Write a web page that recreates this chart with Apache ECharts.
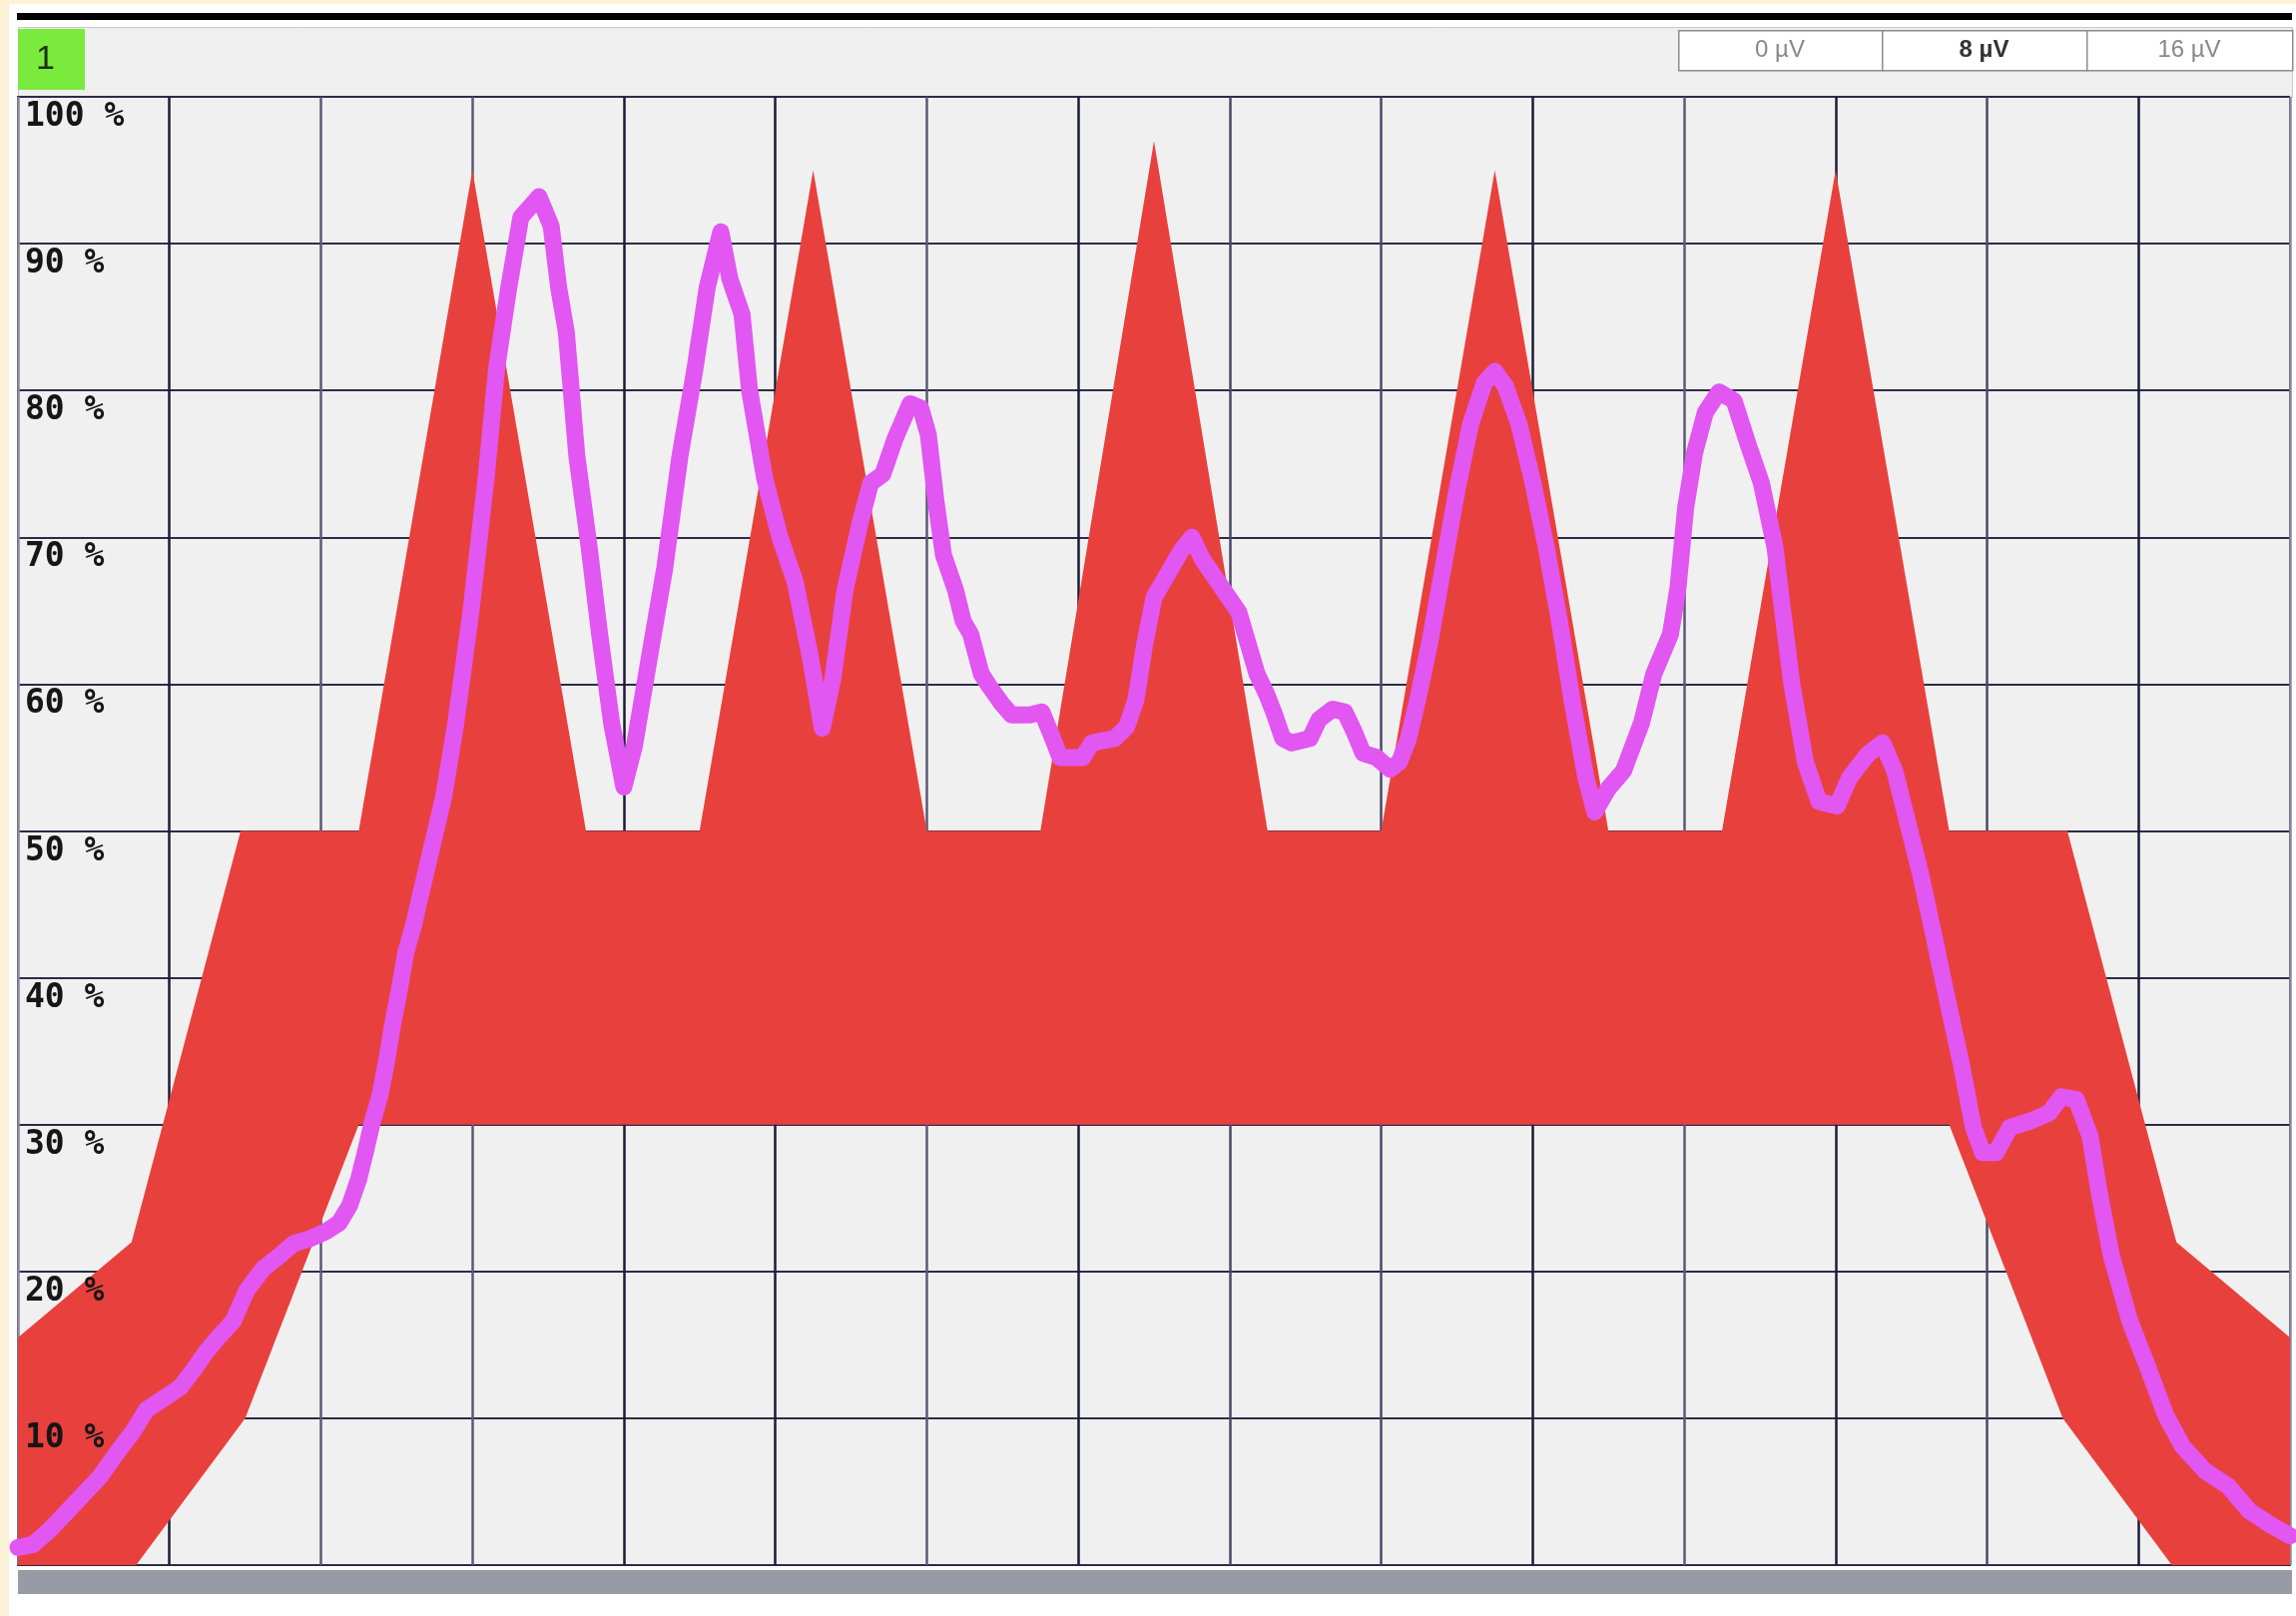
<!DOCTYPE html>
<html>
<head>
<meta charset="utf-8">
<title>Channel 1 trace</title>
<script src="https://cdn.jsdelivr.net/npm/echarts@6/dist/echarts.min.js"></script>
<style>
  html, body { margin: 0; padding: 0; background: #ffffff; }
  #chart { width: 2300px; height: 1619px; }
</style>
</head>
<body>
<div id="chart"></div>
<script>
// Horizontal position is measured in grid divisions (0..15), vertical in percent.
const xDivisions = 15;

// Tolerance band: upper edge (left to right) and lower edge (left to right).
const bandUpper = [
  [0, 15.5], [0.75, 22], [1.47, 50], [2.25, 50], [3.0, 95], [3.75, 50],
  [4.5, 50], [5.25, 95], [6.0, 50], [6.75, 50], [7.5, 97], [8.25, 50],
  [9.0, 50], [9.75, 95], [10.5, 50], [11.25, 50], [12.0, 95], [12.75, 50],
  [13.53, 50], [14.25, 22], [15, 15.5]
];
const bandLower = [
  [0, 0], [0.78, 0], [1.5, 10], [2.25, 30], [12.75, 30], [13.5, 10], [14.22, 0], [15, 0]
];

// Measured trace.
const traceLine = [
  [0, 1.2], [0.1, 1.4], [0.21, 2.4], [0.32, 3.6], [0.43, 4.8], [0.54, 6.0], [0.65, 7.6],
  [0.76, 9.1], [0.85, 10.6], [0.94, 11.2], [1.07, 12.1], [1.16, 13.3], [1.24, 14.5],
  [1.33, 15.6], [1.42, 16.6], [1.51, 18.7], [1.62, 20.2], [1.73, 21.1], [1.82, 21.9],
  [1.92, 22.2], [2.03, 22.7], [2.12, 23.3], [2.19, 24.5], [2.25, 26.3], [2.30, 28.4],
  [2.34, 30.2], [2.39, 32.0], [2.43, 34.1], [2.47, 36.6], [2.52, 39.3], [2.56, 41.7],
  [2.61, 43.5], [2.65, 45.3], [2.81, 52.3], [2.89, 57.3], [2.99, 64.9], [3.09, 74],
  [3.16, 81.5], [3.24, 87], [3.32, 91.8], [3.44, 93.2], [3.52, 91.2], [3.57, 87],
  [3.62, 84], [3.69, 75.5], [3.77, 69.4], [3.84, 63.4], [3.92, 57.3], [4.0, 53.0],
  [4.07, 55.8], [4.17, 61.9], [4.27, 67.9], [4.37, 75.5], [4.47, 81.5], [4.55, 87],
  [4.64, 90.8], [4.70, 87.6], [4.78, 85.2], [4.83, 80], [4.93, 74], [5.03, 70],
  [5.13, 67], [5.23, 61.9], [5.31, 57.0], [5.38, 60.4], [5.46, 66.4], [5.56, 71],
  [5.63, 73.7], [5.71, 74.3], [5.79, 76.7], [5.89, 79.1], [5.96, 78.8], [6.01, 77],
  [6.06, 72.5], [6.11, 68.8], [6.19, 66.4], [6.24, 64.3], [6.29, 63.4], [6.36, 60.7],
  [6.41, 59.9], [6.5, 58.6], [6.56, 57.9], [6.68, 57.9], [6.76, 58.1], [6.82, 56.6],
  [6.88, 55], [7.03, 55], [7.09, 56], [7.24, 56.3], [7.32, 57.1], [7.38, 58.9],
  [7.44, 62.8], [7.5, 65.9], [7.59, 67.5], [7.68, 69.1], [7.75, 70], [7.82, 68.5],
  [7.94, 66.7], [8.06, 64.9], [8.12, 62.8], [8.18, 60.7], [8.24, 59.4], [8.29, 58.1],
  [8.35, 56.3], [8.41, 56], [8.53, 56.3], [8.59, 57.6], [8.68, 58.3], [8.76, 58.1],
  [8.82, 56.8], [8.88, 55.3], [8.97, 55], [9.06, 54.2], [9.12, 54.7], [9.18, 56.3],
  [9.24, 58.9], [9.32, 62.8], [9.41, 68], [9.5, 73.2], [9.59, 77.7], [9.68, 80.5],
  [9.75, 81.3], [9.82, 80.3], [9.91, 77.7], [10.0, 73.8], [10.09, 69.3], [10.18, 64.1],
  [10.26, 58.9], [10.35, 53.7], [10.41, 51.3], [10.5, 52.9], [10.6, 54.1], [10.72, 57.4],
  [10.8, 60.7], [10.91, 63.4], [10.96, 66.6], [11.01, 72], [11.07, 75.8], [11.14, 78.5],
  [11.23, 79.9], [11.33, 79.3], [11.42, 76.4], [11.51, 73.7], [11.6, 69.3], [11.65, 65],
  [11.71, 60.1], [11.8, 54.7], [11.89, 52], [12.01, 51.7], [12.09, 53.6], [12.21, 55.2],
  [12.31, 56], [12.39, 54.1], [12.48, 50.4], [12.56, 47.1], [12.65, 42.8], [12.74, 38.4],
  [12.83, 34.1], [12.91, 29.8], [12.97, 28.1], [13.06, 28.1], [13.15, 29.8], [13.3, 30.3],
  [13.41, 30.8], [13.49, 31.9], [13.59, 31.7], [13.68, 29.2], [13.74, 25.4], [13.82, 21.1],
  [13.94, 16.7], [14.06, 13.5], [14.18, 10.2], [14.29, 8.1], [14.44, 6.4], [14.59, 5.4],
  [14.73, 3.7], [14.88, 2.7], [15, 2.0]
];

// Vertical scale selector cells; the active one is drawn in bold.
const scaleLabels = ['0 µV', '8 µV', '16 µV'];
const activeScale = 1;
const channelLabel = '1';

// Darker vertical division lines alternate irregularly with lighter ones.
const vLineColors = ['#8a8a9c', '#1c1c3a', '#5a5a74', '#5a5a74', '#1c1c3a', '#1c1c3a',
  '#5a5a74', '#1c1c3a', '#4a4a66', '#4a4a66', '#1c1c3a', '#5a5a74', '#1c1c3a',
  '#4a4a66', '#1c1c3a', '#8a8a9c'];

const chart = echarts.init(document.getElementById('chart'), null, { renderer: 'canvas' });

// Header decorations
const cellX = [1681, 1885, 2090];
const cellW = [204, 205, 206];
const headerGraphics = [
  { type: 'rect', left: 0, top: 0, shape: { width: 9, height: 1619 }, style: { fill: '#fcf2d6' } },
  { type: 'rect', left: 0, top: 0, shape: { width: 2300, height: 4 }, style: { fill: '#fcf2d6' } },
  { type: 'rect', left: 17, top: 13, shape: { width: 2279, height: 7 }, style: { fill: '#000000' } },
  { type: 'rect', left: 18, top: 27, shape: { width: 2278, height: 70 }, style: { fill: '#efefef', stroke: '#c9c9c9', lineWidth: 1 } },
  { type: 'rect', left: 18, top: 29, shape: { width: 67, height: 61 }, style: { fill: '#7aea3c' } },
  { type: 'text', left: 36, top: 43, style: { text: channelLabel, fill: '#1b3010', font: '34px "Liberation Sans", sans-serif' } },
  { type: 'rect', left: 18, top: 1573, shape: { width: 2278, height: 24 }, style: { fill: '#979ba5' } }
];
scaleLabels.forEach(function (lbl, i) {
  headerGraphics.push({
    type: 'rect', left: cellX[i], top: 30,
    shape: { width: cellW[i], height: 40 },
    style: { fill: '#ffffff', stroke: '#8c8c8c', lineWidth: 1.5 }
  });
  headerGraphics.push({
    type: 'text', x: cellX[i] + cellW[i] / 2, y: 50,
    style: {
      text: lbl, align: 'center', verticalAlign: 'middle',
      fill: i === activeScale ? '#333333' : '#888888',
      font: (i === activeScale ? 'bold ' : '') + '24px "Liberation Sans Narrow", "Liberation Sans", sans-serif'
    }
  });
});

const option = {
  animation: false,
  backgroundColor: '#ffffff',
  graphic: headerGraphics,
  grid: {
    left: 18, right: 6, top: 97, bottom: 51,
    outerBoundsMode: 'none', containLabel: false,
    show: true, backgroundColor: '#f0f0f0', borderColor: '#3a3a52', borderWidth: 2
  },
  xAxis: {
    type: 'value', min: 0, max: xDivisions, interval: 1,
    axisLine: { show: false }, axisTick: { show: false }, axisLabel: { show: false },
    splitLine: { show: true, lineStyle: { color: vLineColors, width: 2.5 } }
  },
  yAxis: [
    {
      type: 'value', min: 0, max: 100, interval: 10, position: 'left',
      axisLine: { show: false }, axisTick: { show: false }, axisLabel: { show: false },
      splitLine: { show: true, lineStyle: { color: '#2c2c48', width: 2 } }
    },
    {
      type: 'value', min: 0, max: 100, interval: 10, z: 10, position: 'left', offset: 0,
      axisLine: { show: false }, axisTick: { show: false }, splitLine: { show: false },
      axisLabel: {
        show: true, inside: true, margin: 7, align: 'left', verticalAlign: 'top',
        padding: [4, 0, 0, 0], showMinLabel: false,
        color: '#161616', fontWeight: 'bold', fontSize: 33,
        fontFamily: '"DejaVu Sans Mono", monospace',
        formatter: function (v) { return v + ' %'; }
      }
    }
  ],
  series: [
    {
      type: 'custom',
      name: 'band',
      z: 2,
      clip: true,
      data: bandUpper,
      encode: { x: 0, y: 1 },
      renderItem: function (params, api) {
        if (params.dataIndex !== 0) return null;
        const pts = bandUpper.map(function (p) { return api.coord(p); })
          .concat(bandLower.slice().reverse().map(function (p) { return api.coord(p); }));
        return { type: 'polygon', shape: { points: pts }, style: { fill: '#e8413d' } };
      }
    },
    {
      type: 'line',
      name: 'trace',
      z: 3,
      data: traceLine,
      showSymbol: false,
      symbol: 'none',
      smooth: false,
      lineStyle: { color: '#e256f2', width: 17, join: 'round', cap: 'round' }
    }
  ]
};

chart.setOption(option);
</script>
</body>
</html>
